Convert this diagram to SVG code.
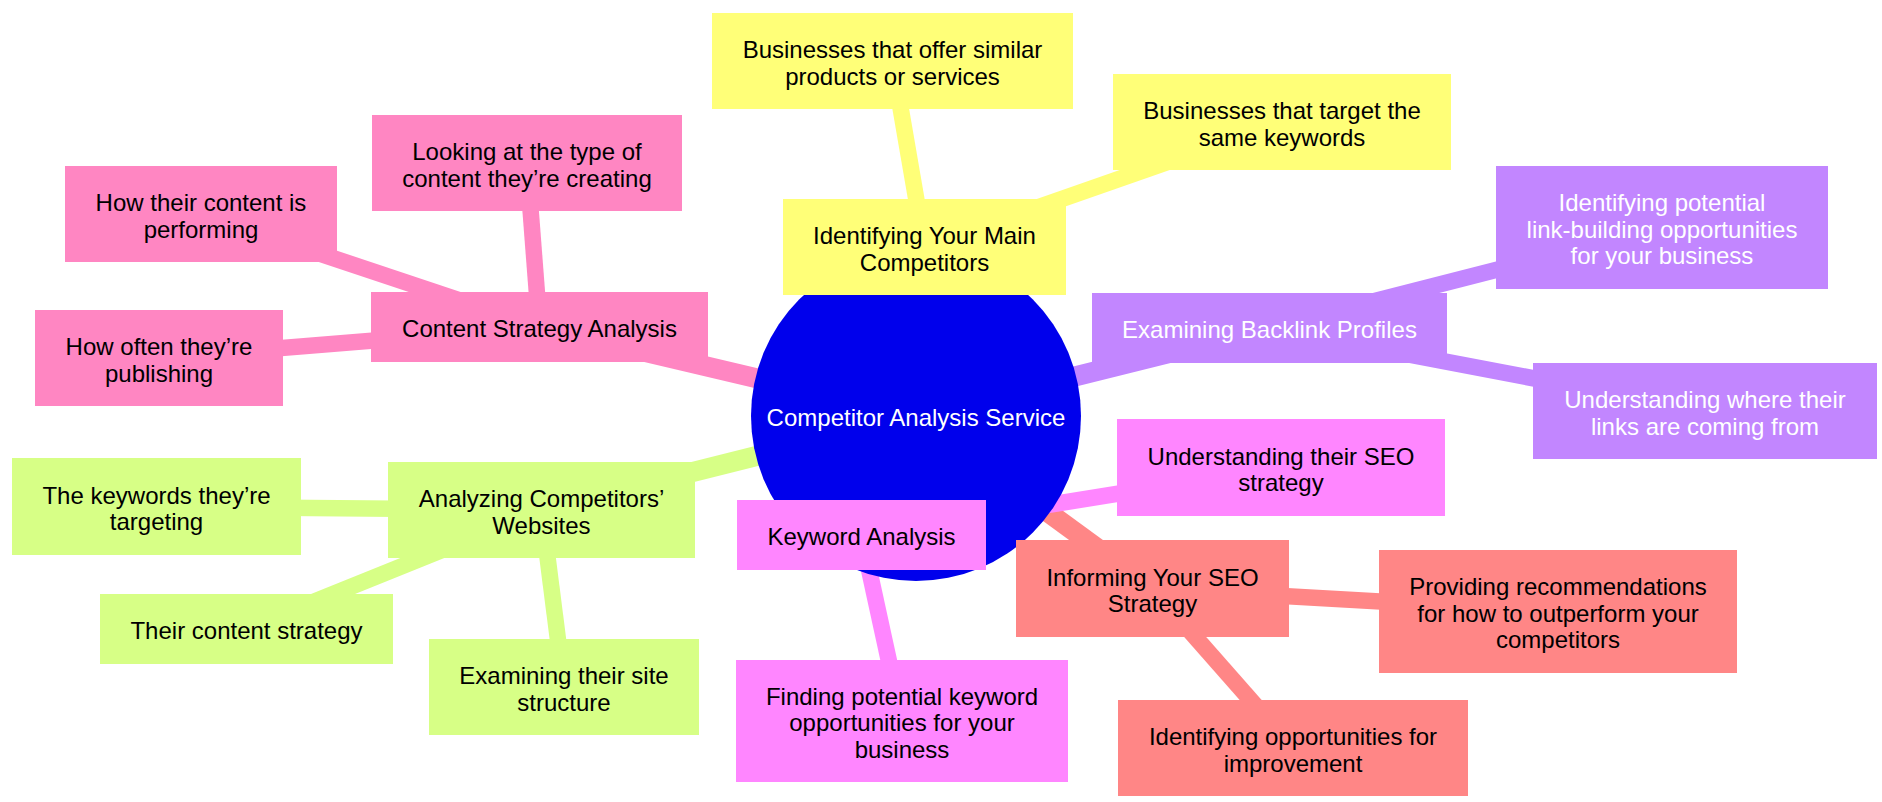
<svg xmlns="http://www.w3.org/2000/svg" width="1882" height="802" viewBox="0 0 1882 802">
<style>
text{font-family:"Liberation Sans",Arial,sans-serif;font-size:24px;text-anchor:middle;fill:#000}
.w{fill:#fff}
.e{fill:none;stroke-linecap:butt}
.r{stroke-width:20}
.c{stroke-width:16.5}
.y{fill:#FFFF78}.ys{stroke:#FFFF78}
.g{fill:#D7FF86}.gs{stroke:#D7FF86}
.p{fill:#C286FF}.ps{stroke:#C286FF}
.m{fill:#FF86FF}.ms{stroke:#FF86FF}
.k{fill:#FF86C2}.ks{stroke:#FF86C2}
.s{fill:#FF8686}.ss{stroke:#FF8686}
</style>
<rect width="1882" height="802" fill="#fff"/>
<g id="connectors">
<line class="e r ys" x1="916" y1="416" x2="924.5" y2="247"/>
<line class="e r ps" x1="916" y1="416" x2="1269.5" y2="328"/>
<line class="e r ss" x1="916" y1="416" x2="1152.5" y2="588.5"/>
<line class="e r ms" x1="916" y1="416" x2="861.5" y2="535"/>
<line class="e r gs" x1="916" y1="416" x2="541.5" y2="510"/>
<line class="e r ks" x1="916" y1="416" x2="539.5" y2="327"/>
<line class="e c ys" x1="924.5" y1="247" x2="892.5" y2="61"/>
<line class="e c ys" x1="924.5" y1="247" x2="1282" y2="122"/>
<line class="e c ps" x1="1269.5" y1="328" x2="1662" y2="227.5"/>
<line class="e c ps" x1="1269.5" y1="328" x2="1705" y2="411"/>
<line class="e c ss" x1="1152.5" y1="588.5" x2="1558" y2="611.5"/>
<line class="e c ss" x1="1152.5" y1="588.5" x2="1293" y2="748"/>
<line class="e c ms" x1="861.5" y1="535" x2="1281" y2="467.5"/>
<line class="e c ms" x1="861.5" y1="535" x2="902" y2="721"/>
<line class="e c gs" x1="541.5" y1="510" x2="156.5" y2="506.5"/>
<line class="e c gs" x1="541.5" y1="510" x2="246.5" y2="629"/>
<line class="e c gs" x1="541.5" y1="510" x2="564" y2="687"/>
<line class="e c ks" x1="539.5" y1="327" x2="527" y2="163"/>
<line class="e c ks" x1="539.5" y1="327" x2="201" y2="214"/>
<line class="e c ks" x1="539.5" y1="327" x2="159" y2="358"/>
</g>
<g id="root">
<circle cx="916" cy="416" r="165" fill="#0000EC"/>
<text class="w" x="916" y="425.5">Competitor Analysis Service</text>
</g>
<g id="n-iymc">
<rect class="y" x="783" y="199" width="283" height="96"/>
<text x="924.5" y="244"><tspan x="924.5">Identifying Your Main</tspan><tspan x="924.5" dy="26.5">Competitors</tspan></text>
</g>
<g id="n-bs">
<rect class="y" x="712" y="13" width="361" height="96"/>
<text x="892.5" y="58"><tspan x="892.5">Businesses that offer similar</tspan><tspan x="892.5" dy="26.5">products or services</tspan></text>
</g>
<g id="n-bt">
<rect class="y" x="1113" y="74" width="338" height="96"/>
<text x="1282" y="119"><tspan x="1282">Businesses that target the</tspan><tspan x="1282" dy="26.5">same keywords</tspan></text>
</g>
<g id="n-ebp">
<rect class="p" x="1092" y="293" width="355" height="70"/>
<text class="w" x="1269.5" y="338.3">Examining Backlink Profiles</text>
</g>
<g id="n-ip">
<rect class="p" x="1496" y="166" width="332" height="123"/>
<text class="w" x="1662" y="211.3"><tspan x="1662">Identifying potential</tspan><tspan x="1662" dy="26.5">link-building opportunities</tspan><tspan x="1662" dy="26.5">for your business</tspan></text>
</g>
<g id="n-uw">
<rect class="p" x="1533" y="363" width="344" height="96"/>
<text class="w" x="1705" y="408"><tspan x="1705">Understanding where their</tspan><tspan x="1705" dy="26.5">links are coming from</tspan></text>
</g>
<g id="n-iss">
<rect class="s" x="1016" y="540" width="273" height="97"/>
<text x="1152.5" y="585.5"><tspan x="1152.5">Informing Your SEO</tspan><tspan x="1152.5" dy="26.5">Strategy</tspan></text>
</g>
<g id="n-pr">
<rect class="s" x="1379" y="550" width="358" height="123"/>
<text x="1558" y="595.3"><tspan x="1558">Providing recommendations</tspan><tspan x="1558" dy="26.5">for how to outperform your</tspan><tspan x="1558" dy="26.5">competitors</tspan></text>
</g>
<g id="n-io">
<rect class="s" x="1118" y="700" width="350" height="96"/>
<text x="1293" y="745"><tspan x="1293">Identifying opportunities for</tspan><tspan x="1293" dy="26.5">improvement</tspan></text>
</g>
<g id="n-ka">
<rect class="m" x="737" y="500" width="249" height="70"/>
<text x="861.5" y="545.3">Keyword Analysis</text>
</g>
<g id="n-us">
<rect class="m" x="1117" y="419" width="328" height="97"/>
<text x="1281" y="464.5"><tspan x="1281">Understanding their SEO</tspan><tspan x="1281" dy="26.5">strategy</tspan></text>
</g>
<g id="n-fp">
<rect class="m" x="736" y="660" width="332" height="122"/>
<text x="902" y="704.8"><tspan x="902">Finding potential keyword</tspan><tspan x="902" dy="26.5">opportunities for your</tspan><tspan x="902" dy="26.5">business</tspan></text>
</g>
<g id="n-acw">
<rect class="g" x="388" y="462" width="307" height="96"/>
<text x="541.5" y="507"><tspan x="541.5">Analyzing Competitors’</tspan><tspan x="541.5" dy="26.5">Websites</tspan></text>
</g>
<g id="n-tk">
<rect class="g" x="12" y="458" width="289" height="97"/>
<text x="156.5" y="503.5"><tspan x="156.5">The keywords they’re</tspan><tspan x="156.5" dy="26.5">targeting</tspan></text>
</g>
<g id="n-tc">
<rect class="g" x="100" y="594" width="293" height="70"/>
<text x="246.5" y="639.3">Their content strategy</text>
</g>
<g id="n-es">
<rect class="g" x="429" y="639" width="270" height="96"/>
<text x="564" y="684"><tspan x="564">Examining their site</tspan><tspan x="564" dy="26.5">structure</tspan></text>
</g>
<g id="n-csa">
<rect class="k" x="371" y="292" width="337" height="70"/>
<text x="539.5" y="337.3">Content Strategy Analysis</text>
</g>
<g id="n-lt">
<rect class="k" x="372" y="115" width="310" height="96"/>
<text x="527" y="160"><tspan x="527">Looking at the type of</tspan><tspan x="527" dy="26.5">content they’re creating</tspan></text>
</g>
<g id="n-hc">
<rect class="k" x="65" y="166" width="272" height="96"/>
<text x="201" y="211"><tspan x="201">How their content is</tspan><tspan x="201" dy="26.5">performing</tspan></text>
</g>
<g id="n-ho">
<rect class="k" x="35" y="310" width="248" height="96"/>
<text x="159" y="355"><tspan x="159">How often they’re</tspan><tspan x="159" dy="26.5">publishing</tspan></text>
</g>
</svg>
